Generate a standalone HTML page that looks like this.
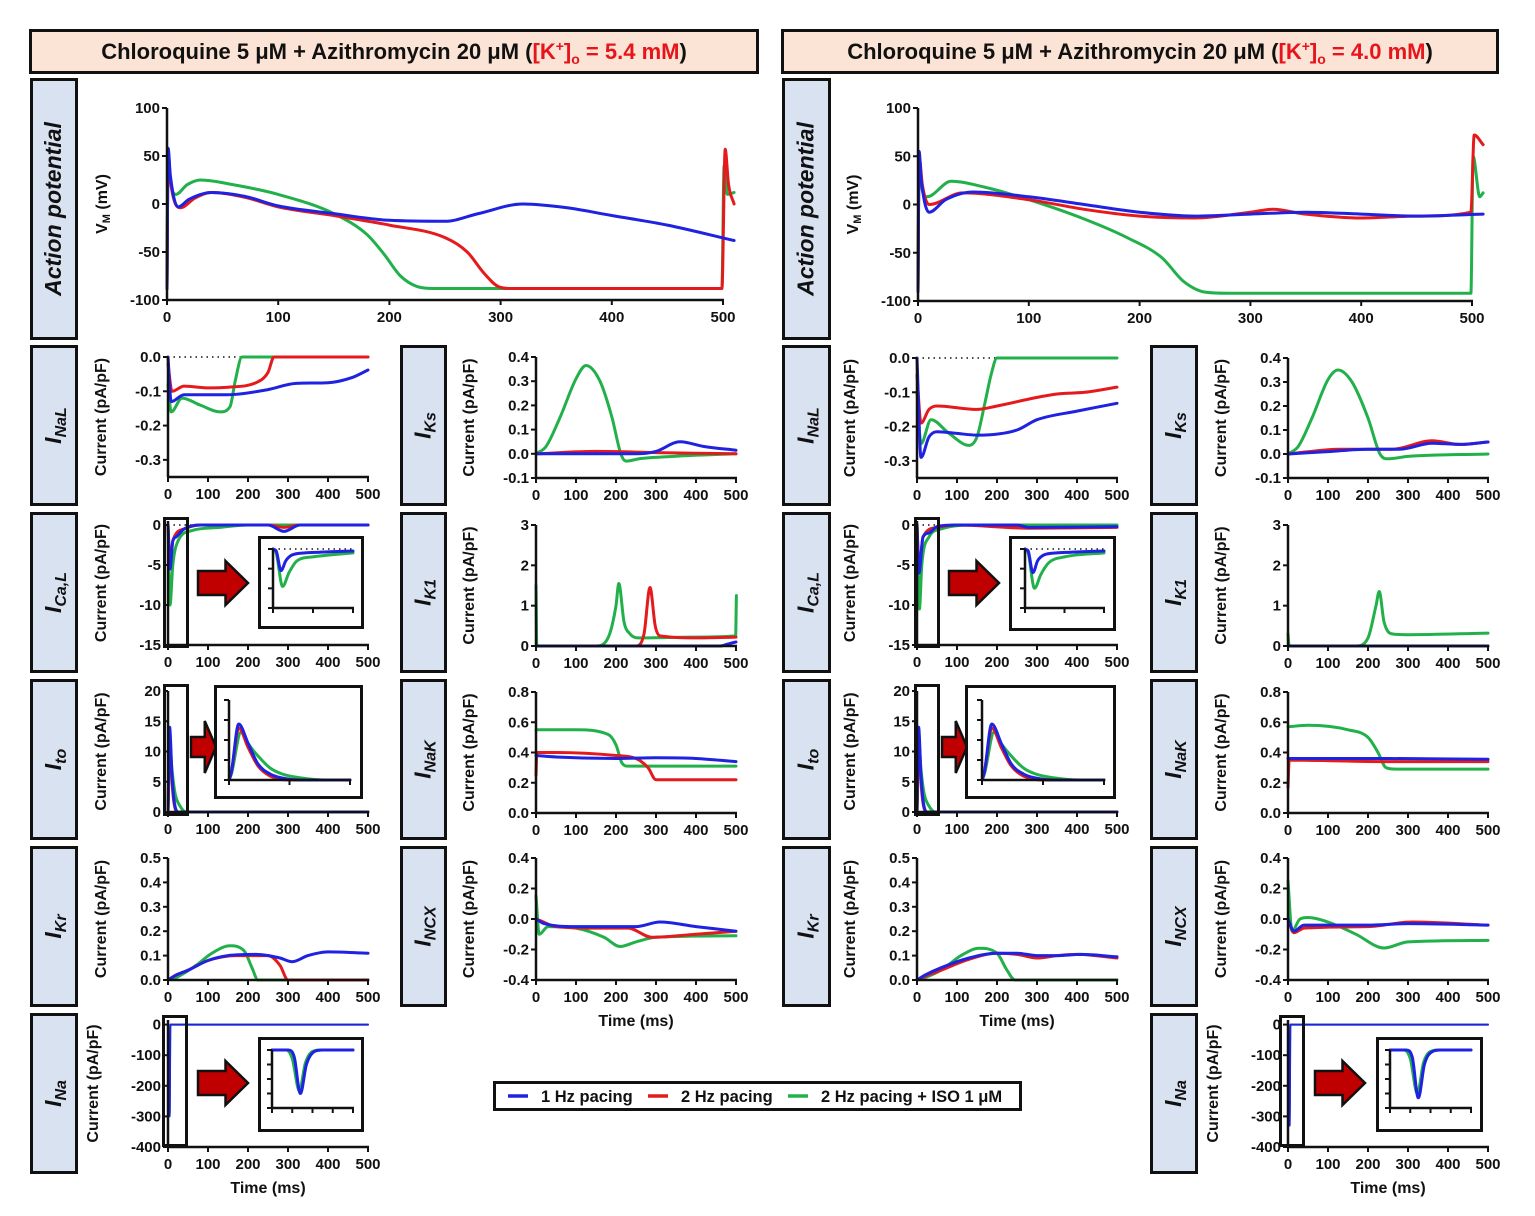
<!DOCTYPE html>
<html><head><meta charset="utf-8">
<style>
html,body{margin:0;padding:0;background:#fff;}
svg{display:block;font-family:"Liberation Sans",Arial,sans-serif;}
.tk{font-size:15px;font-weight:bold;fill:#111;}
.yl{font-size:16px;font-weight:bold;fill:#111;}
</style></head>
<body>
<svg id="fig" width="1535" height="1216" viewBox="0 0 1535 1216" xmlns="http://www.w3.org/2000/svg">
<rect x="0" y="0" width="1535" height="1216" fill="#fff"/>
<g>
<rect x="30.5" y="30.5" width="727" height="42" fill="#fbe4d5" stroke="#111" stroke-width="3"/>
<text x="394" y="59" text-anchor="middle" font-size="22" font-weight="bold" fill="#111">Chloroquine 5 μM + Azithromycin 20 μM (<tspan fill="#e8141b">[K<tspan font-size="14" dy="-8">+</tspan><tspan dy="8">]</tspan><tspan font-size="14" dy="5">o</tspan><tspan dy="-5"> = 5.4 mM</tspan></tspan>)</text>
</g>
<g>
<rect x="782.5" y="30.5" width="715" height="42" fill="#fbe4d5" stroke="#111" stroke-width="3"/>
<text x="1140" y="59" text-anchor="middle" font-size="22" font-weight="bold" fill="#111">Chloroquine 5 μM + Azithromycin 20 μM (<tspan fill="#e8141b">[K<tspan font-size="14" dy="-8">+</tspan><tspan dy="8">]</tspan><tspan font-size="14" dy="5">o</tspan><tspan dy="-5"> = 4.0 mM</tspan></tspan>)</text>
</g>
<g id="labels"></g>
<g id="plots"></g>
<g>
<rect x="494.5" y="1082.5" width="526" height="27" fill="#fff" stroke="#111" stroke-width="3"/>
<g><line x1="508" y1="1096" x2="528" y2="1096" stroke="#1f22e0" stroke-width="3.5"/><text x="541" y="1102" font-size="16.5" font-weight="bold" fill="#111">1 Hz pacing</text></g>
<g><line x1="648" y1="1096" x2="668" y2="1096" stroke="#e41a1c" stroke-width="3.5"/><text x="681" y="1102" font-size="16.5" font-weight="bold" fill="#111">2 Hz pacing</text></g>
<g><line x1="788" y1="1096" x2="808" y2="1096" stroke="#22b04a" stroke-width="3.5"/><text x="821" y="1102" font-size="16.5" font-weight="bold" fill="#111">2 Hz pacing + ISO 1 μM</text></g>
</g>
</svg>
<script>
// ===== DATA (t in ms, value) =====
const apL_blue=[[0,-88],[1,58],[3,30],[10,-3],[20,5],[40,12],[70,8],[100,-2],[150,-10],[200,-17],[250,-18],[280,-10],[320,0],[360,-4],[400,-12],[450,-22],[510,-38]];
const apL_red=[[0,-88],[1,55],[3,25],[12,-4],[25,6],[40,12],[70,7],[100,-3],[150,-12],[200,-22],[250,-35],[270,-50],[285,-72],[298,-86],[310,-88],[499,-88],[502,57],[505,20],[510,0]];
const apL_green=[[0,-88],[1,55],[3,25],[8,10],[18,20],[30,25],[60,20],[100,10],[150,-10],[180,-32],[195,-52],[210,-75],[225,-86],[240,-88],[499,-88],[501,40],[504,10],[510,12]];
const apR_blue=[[0,-90],[1,55],[3,25],[10,-8],[25,5],[50,13],[100,8],[150,0],[200,-8],[250,-12],[300,-10],[350,-8],[400,-10],[450,-12],[510,-10]];
const apR_red=[[0,-90],[1,50],[4,20],[10,0],[40,12],[100,5],[150,-5],[200,-12],[250,-14],[300,-8],[320,-5],[350,-10],[400,-14],[450,-12],[499,-8],[502,72],[510,62]];
const apR_green=[[0,-90],[1,45],[3,20],[8,8],[30,24],[60,18],[100,5],[150,-15],[190,-35],[220,-55],[240,-80],[260,-91],[280,-92],[499,-92],[501,50],[507,8],[510,12]];

const naLL_blue=[[0,0],[8,-0.13],[40,-0.11],[100,-0.11],[150,-0.11],[250,-0.095],[320,-0.077],[400,-0.075],[460,-0.06],[500,-0.038]];
const naLL_red=[[0,-0.02],[10,-0.1],[40,-0.085],[100,-0.09],[150,-0.088],[220,-0.075],[250,-0.045],[265,0],[500,0]];
const naLL_green=[[0,-0.08],[8,-0.16],[35,-0.12],[80,-0.14],[130,-0.16],[155,-0.145],[168,-0.07],[185,0],[500,0]];
const naLR_blue=[[0,0],[10,-0.29],[30,-0.23],[50,-0.215],[100,-0.22],[150,-0.225],[250,-0.21],[300,-0.18],[400,-0.155],[500,-0.132]];
const naLR_red=[[0,-0.05],[10,-0.19],[30,-0.15],[50,-0.14],[150,-0.15],[200,-0.14],[300,-0.115],[350,-0.105],[420,-0.1],[500,-0.085]];
const naLR_green=[[0,-0.1],[10,-0.25],[35,-0.18],[80,-0.22],[130,-0.255],[150,-0.23],[170,-0.13],[185,-0.05],[200,0],[500,0]];

const ks5_blue=[[0,0],[250,0],[300,0.01],[360,0.05],[420,0.03],[500,0.015]];
const ks5_red=[[0,0],[150,0.01],[300,0.005],[500,0]];
const ks5_green=[[0,0],[25,0.03],[60,0.15],[100,0.31],[125,0.365],[160,0.3],[190,0.15],[212,0],[225,-0.03],[260,-0.02],[350,-0.01],[500,0]];
const ks4_blue=[[0,0],[100,0.01],[200,0.02],[280,0.02],[360,0.045],[430,0.04],[500,0.05]];
const ks4_red=[[0,0],[130,0.02],[260,0.02],[360,0.055],[430,0.04],[500,0.05]];
const ks4_green=[[0,0],[25,0.03],[60,0.15],[100,0.31],[125,0.35],[160,0.3],[200,0.15],[230,0],[250,-0.02],[300,-0.01],[500,0]];

const caL5_blue=[[0,0],[5,-5.5],[12,-2],[20,-1.5],[40,-0.5],[80,0],[250,0],[290,-0.8],[330,0],[500,0]];
const caL5_red=[[0,0],[5,-5],[12,-2],[40,-0.5],[80,0],[250,0],[290,-0.3],[330,0],[500,0]];
const caL5_green=[[0,0],[5,-10],[12,-5],[25,-2],[60,-0.7],[130,-0.3],[200,0],[500,0]];
const caL4_blue=[[0,0],[5,-6],[15,-1.5],[30,-1],[50,-0.2],[100,0],[250,0],[280,-0.3],[500,-0.2]];
const caL4_red=[[0,0],[5,-5.5],[15,-1.5],[50,-0.3],[100,0],[280,-0.4],[500,-0.3]];
const caL4_green=[[0,0],[6,-10.5],[12,-5],[30,-1.5],[60,-0.5],[150,0],[500,0]];
const caI5_blue=[[0,0],[2,-0.5],[5,-5.5],[8,-3],[12,-1.5],[20,-1],[30,-0.8],[50,-0.5]];
const caI5_green=[[0,0],[2,-1],[6,-9.5],[10,-6],[15,-3],[25,-2],[50,-1]];
const caI4_blue=[[0,0],[2,-0.5],[5,-6],[8,-3],[12,-1.5],[20,-1],[30,-0.8],[50,-0.5]];
const caI4_green=[[0,0],[2,-1],[6,-10],[10,-6.5],[15,-3.5],[25,-2],[50,-1]];

const k15_blue=[[0,0],[460,0],[480,0.05],[500,0.1]];
const k15_red=[[0,0],[250,0],[270,0.3],[285,1.45],[298,0.5],[310,0.25],[400,0.2],[500,0.22]];
const k15_green=[[0,1.5],[2,0],[150,0],[180,0.2],[200,1],[207,1.55],[220,0.6],[235,0.3],[260,0.2],[400,0.22],[499,0.25],[501,1.25]];
const k14_blue=[[0,0],[500,0]];
const k14_red=[[0,0],[500,0]];
const k14_green=[[0,0.3],[3,0],[170,0],[200,0.2],[220,1],[228,1.35],[240,0.6],[260,0.3],[300,0.28],[500,0.32]];

const to5_blue=[[0,0],[4,14],[10,6],[15,2],[25,0],[500,0]];
const to5_red=[[0,0],[4,12.5],[10,5],[15,1.5],[25,0],[500,0]];
const to5_green=[[0,0],[5,11],[10,7],[18,3],[30,1],[45,0],[500,0]];
const to4_blue=[[0,0],[4,14],[10,6],[15,2],[25,0],[500,0]];
const to4_red=[[0,0],[4,13],[10,5],[15,1.5],[25,0],[500,0]];
const to4_green=[[0,0],[5,11],[10,7],[18,3],[30,1],[45,0],[500,0]];
const toI_blue=[[0,0],[1,2],[4,14],[8,9],[12,4],[17,1.5],[22,0.5],[30,0],[50,0]];
const toI_red=[[0,0],[1,2],[4,13],[8,8],[12,3.5],[17,1],[25,0],[50,0]];
const toI_green=[[0,0],[1,1.5],[5,12],[8,9],[12,6],[17,3],[22,1.5],[30,0.5],[40,0],[50,0]];

const nak5_blue=[[0,0.38],[50,0.37],[200,0.36],[300,0.365],[400,0.36],[500,0.34]];
const nak5_red=[[0,0.25],[2,0.4],[50,0.4],[200,0.38],[250,0.36],[280,0.3],[300,0.22],[500,0.22]];
const nak5_green=[[0,0.55],[100,0.55],[180,0.52],[200,0.45],[215,0.33],[230,0.31],[500,0.31]];
const nak4_blue=[[0,0.36],[250,0.36],[500,0.355]];
const nak4_red=[[0,0.17],[3,0.35],[250,0.34],[500,0.34]];
const nak4_green=[[0,0.57],[50,0.58],[150,0.55],[200,0.5],[225,0.4],[245,0.3],[270,0.29],[500,0.29]];

const kr5_blue=[[0,0],[20,0.02],[50,0.04],[100,0.08],[150,0.1],[220,0.105],[280,0.09],[310,0.075],[350,0.1],[400,0.115],[500,0.11]];
const kr5_red=[[0,0],[20,0.02],[50,0.04],[100,0.08],[170,0.1],[250,0.1],[280,0.06],[300,0],[500,0]];
const kr5_green=[[0,0],[20,0.01],[70,0.06],[110,0.11],[155,0.14],[190,0.12],[210,0.05],[225,0],[500,0]];
const kr4_blue=[[0,0],[20,0.02],[60,0.05],[130,0.09],[200,0.11],[250,0.11],[300,0.1],[350,0.1],[410,0.105],[500,0.095]];
const kr4_red=[[0,0],[20,0.015],[60,0.04],[130,0.085],[200,0.11],[250,0.105],[300,0.09],[350,0.1],[400,0.105],[500,0.09]];
const kr4_green=[[0,0],[20,0.01],[60,0.04],[110,0.1],[155,0.13],[200,0.11],[225,0.04],[245,0],[500,0]];

const ncx5_blue=[[0,0],[20,-0.03],[100,-0.05],[250,-0.05],[310,-0.02],[400,-0.05],[500,-0.08]];
const ncx5_red=[[0,0],[10,-0.01],[50,-0.05],[150,-0.06],[230,-0.06],[290,-0.12],[400,-0.1],[500,-0.08]];
const ncx5_green=[[0,0.15],[8,-0.1],[30,-0.05],[100,-0.06],[170,-0.12],[210,-0.18],[250,-0.15],[300,-0.12],[500,-0.11]];
const ncx4_blue=[[0,0],[15,-0.08],[40,-0.04],[200,-0.04],[300,-0.03],[500,-0.04]];
const ncx4_red=[[0,0],[15,-0.09],[40,-0.06],[200,-0.05],[310,-0.02],[500,-0.04]];
const ncx4_green=[[0,0.25],[10,-0.08],[30,0],[50,0.01],[100,-0.02],[170,-0.1],[240,-0.19],[300,-0.15],[500,-0.14]];

const na5_blue=[[0,0],[4,-300],[6,0],[500,0]];
const na5_green=[[0,0],[4,-290],[6,0],[500,0]];
const na4_blue=[[0,0],[4,-330],[6,0],[500,0]];
const na4_green=[[0,0],[4,-300],[6,0],[500,0]];
const naI5_blue=[[0,0],[0.8,0],[1.1,-50],[1.4,-300],[1.7,-100],[2.1,-10],[2.5,0],[4,0]];
const naI5_green=[[0,0],[0.7,0],[1.0,-60],[1.35,-280],[1.65,-90],[2.0,-10],[2.4,0],[4,0]];
const naI4_blue=[[0,0],[0.8,0],[1.1,-50],[1.4,-330],[1.7,-100],[2.1,-10],[2.5,0],[4,0]];
const naI4_green=[[0,0],[0.7,0],[1.0,-60],[1.35,-300],[1.65,-90],[2.0,-10],[2.4,0],[4,0]];

const xTicks=[0,100,200,300,400,500];
const apTicks=[-100,-50,0,50,100];
const naLTicks=[0,-0.1,-0.2,-0.3];
const caLTicks=[0,-5,-10,-15];
const toTicks=[0,5,10,15,20];
const krTicks=[0,0.1,0.2,0.3,0.4,0.5];
const naTicks=[0,-100,-200,-300,-400];
const ksTicks=[-0.1,0,0.1,0.2,0.3,0.4];
const k1Ticks=[0,1,2,3];
const nakTicks=[0,0.2,0.4,0.6,0.8];
const ncxTicks=[-0.4,-0.2,0,0.2,0.4];

const BLUE='#1f22e0',RED='#e41a1c',GREEN='#22b04a';
const NS='http://www.w3.org/2000/svg';
function mk(tag,attrs,parent){const e=document.createElementNS(NS,tag);for(const k in attrs)e.setAttribute(k,attrs[k]);if(parent)parent.appendChild(e);return e;}
const plots=document.getElementById('plots');
const labels=document.getElementById('labels');

function fmt(v,dec){return dec?v.toFixed(dec):String(v);}

function smoothPath(P){
  const n=P.length;
  const f=v=>v.toFixed(1);
  if(n<3)return 'M'+P.map(p=>f(p[0])+','+f(p[1])).join(' L');
  const d=[],m=new Array(n);
  for(let i=0;i<n-1;i++){const h=P[i+1][0]-P[i][0];d.push(h>0?(P[i+1][1]-P[i][1])/h:0);}
  m[0]=d[0];m[n-1]=d[n-2];
  for(let i=1;i<n-1;i++){m[i]=(d[i-1]*d[i]<=0)?0:(d[i-1]+d[i])/2;}
  for(let i=0;i<n-1;i++){
    if(d[i]===0){m[i]=0;m[i+1]=0;continue;}
    const a=m[i]/d[i],b=m[i+1]/d[i],s=a*a+b*b;
    if(s>9){const t=3/Math.sqrt(s);m[i]=t*a*d[i];m[i+1]=t*b*d[i];}
  }
  let s='M'+f(P[0][0])+','+f(P[0][1]);
  for(let i=0;i<n-1;i++){
    const h=(P[i+1][0]-P[i][0])/3;
    s+=' C'+f(P[i][0]+h)+','+f(P[i][1]+m[i]*h)+' '+f(P[i+1][0]-h)+','+f(P[i+1][1]-m[i+1]*h)+' '+f(P[i+1][0])+','+f(P[i+1][1]);
  }
  return s;
}

function drawPanel(p){
  const g=mk('g',{},plots);
  
  
  const xmin=p.xmin||0,xmax=p.xmax||500;
  const sx=t=>p.x0+(t-xmin)/(xmax-xmin)*(p.x1-p.x0);
  const sy=v=>p.yb-(v-p.ymin)/(p.ymax-p.ymin)*(p.yb-p.yt);
  if(p.dotted){
    const d=mk('line',{x1:sx(0),y1:sy(0),x2:p.x1,y2:sy(0),stroke:'#111','stroke-width':1.5,'stroke-dasharray':'1.5,4'},g);
    
    
  }
  const ser=[[p.green,GREEN,'series-2hz-iso'],[p.red,RED,'series-2hz'],[p.blue,BLUE,'series-1hz']];
  for(const [data,col,nm] of ser){
    if(!data)continue;
    const P=data.map(d=>[sx(d[0]),sy(Math.max(p.ymin,Math.min(p.ymax,d[1])))]);
    const pl=mk('path',{d:smoothPath(P),fill:'none',stroke:col,'stroke-width':p.sw||3,'stroke-linejoin':'round','stroke-linecap':'round'},g);
    
    
  }
  const ya=mk('line',{x1:p.x0,y1:p.yt,x2:p.x0,y2:p.yb,stroke:'#111','stroke-width':2.5},g);
  
  
  const xa=mk('line',{x1:p.x0-1,y1:p.yb,x2:p.x1+1,y2:p.yb,stroke:'#111','stroke-width':2.5},g);
  
  
  for(const v of p.yticks){
    const y=sy(v);
    const tl=mk('line',{x1:p.x0-5,y1:y,x2:p.x0,y2:y,stroke:'#111','stroke-width':2},g);
    
    
    if(p.noLabels)continue;
    const tx=mk('text',{x:p.x0-7,y:y+5,'text-anchor':'end',class:'tk'},g);
    tx.textContent=fmt(v,p.dec);
    
    
  }
  for(const v of p.xticks){
    const x=sx(v);
    const tl=mk('line',{x1:x,y1:p.yb,x2:x,y2:p.yb+5,stroke:'#111','stroke-width':2},g);
    
    
    if(p.noLabels)continue;
    const tx=mk('text',{x:x,y:p.yb+22,'text-anchor':'middle',class:'tk'},g);
    tx.textContent=String(v);
    
    
  }
  if(p.ylabel){
    const cy=(p.yt+p.yb)/2, cx=p.x0-(p.ylOff||56);
    const yl=mk('text',{x:cx,y:cy,'text-anchor':'middle',class:'yl',transform:`rotate(-90 ${cx} ${cy})`},g);
    
    
    if(p.ylabel==='VM'){yl.innerHTML='V<tspan font-size="11" dy="3">M</tspan><tspan dy="-3"> (mV)</tspan>';}
    else yl.textContent=p.ylabel;
  }
  if(p.time){
    const tt=mk('text',{x:(p.x0+p.x1)/2,y:p.yb+46,'text-anchor':'middle',class:'yl'},g);
    tt.textContent='Time (ms)';
    
    
  }
}

function rowLabel(x,y,w,h,main,sub,name){
  const g=mk('g',{},labels);
  
  
  mk('rect',{x:x+1.5,y:y+1.5,width:w-3,height:h-3,fill:'#d9e2f1',stroke:'#111','stroke-width':3},g);
  const cx=x+w/2+7,cy=y+h/2;
  const t=mk('text',{x:cx,y:cy,'text-anchor':'middle','font-size':23,'font-weight':'bold','font-style':'italic',fill:'#111',transform:`rotate(-90 ${cx} ${cy})`},g);
  if(sub)t.innerHTML=main+'<tspan font-size="16" dy="5">'+sub+'</tspan>';
  else t.textContent=main;
}

function zoomBox(x,y,w,h,name){
  const r=mk('rect',{x:x,y:y,width:w,height:h,fill:'none',stroke:'#111','stroke-width':3},plots);
  
  
}
function arrow(x,y,w,h,shaft,name){
  const hw=Math.min(w*0.45,h*0.55);
  const my=y+h/2, sh=shaft/2;
  const pts=[[x,my-sh],[x+w-hw,my-sh],[x+w-hw,y],[x+w,my],[x+w-hw,y+h],[x+w-hw,my+sh],[x,my+sh]].map(p=>p.join(',')).join(' ');
  const a=mk('polygon',{points:pts,fill:'#c00000',stroke:'#111','stroke-width':2.5,'stroke-linejoin':'miter'},plots);
  
  
}

const LX=[30,400,782,1150], LW=[48,47,49,48];
rowLabel(30,78,48,262,'Action potential','','row-label-action-potential-left');
rowLabel(782,78,49,262,'Action potential','','row-label-action-potential-right');
const rowsY=[345,512,679,846,1013];
const colLab=[['NaL','Ca,L','to','Kr','Na'],['Ks','K1','NaK','NCX'],['NaL','Ca,L','to','Kr'],['Ks','K1','NaK','NCX','Na']];
for(let c=0;c<4;c++){
  colLab[c].forEach((s,i)=>{
    rowLabel(LX[c],rowsY[i],LW[c],161,'I',s,'row-label-i-'+s.replace(',','').toLowerCase()+'-'+c);
  });
}

drawPanel({name:'ap-chart-left',x0:167,x1:723,yt:108,yb:300,ymin:-100,ymax:100,yticks:apTicks,xticks:xTicks,blue:apL_blue,red:apL_red,green:apL_green,ylabel:'VM',ylOff:60});
drawPanel({name:'ap-chart-right',x0:918,x1:1472,yt:108,yb:301,ymin:-100,ymax:100,yticks:apTicks,xticks:xTicks,blue:apR_blue,red:apR_red,green:apR_green,ylabel:'VM',ylOff:60});

const CUR='Current (pA/pF)';
const A=[168,368],B=[536,736],C=[917,1117],D=[1288,1488];
function sp(name,col,yt,yb,ymin,ymax,ticks,dec,blue,red,green,extra){
  drawPanel(Object.assign({name:name,x0:col[0],x1:col[1],yt:yt,yb:yb,ymin:ymin,ymax:ymax,yticks:ticks,dec:dec,xticks:xTicks,blue:blue,red:red,green:green,ylabel:CUR,ylOff:62},extra||{}));
}
sp('inal-chart-left',A,357,477,-0.35,0,naLTicks,1,naLL_blue,naLL_red,naLL_green,{dotted:true});
sp('ical-chart-left',A,521,645,-15,0.5,caLTicks,0,caL5_blue,caL5_red,caL5_green,{dotted:true});
sp('ito-chart-left',A,691,812,0,20,toTicks,0,to5_blue,to5_red,to5_green);
sp('ikr-chart-left',A,858,980,0,0.5,krTicks,1,kr5_blue,kr5_red,kr5_green);
sp('ina-chart-left',A,1020,1147,-400,15,naTicks,0,na5_blue,null,na5_green,{time:true,ylOff:70,sw:2});
sp('iks-chart-left',B,357,478,-0.1,0.4,ksTicks,1,ks5_blue,ks5_red,ks5_green);
sp('ik1-chart-left',B,525,646,0,3,k1Ticks,0,k15_blue,k15_red,k15_green);
sp('inak-chart-left',B,692,813,0,0.8,nakTicks,1,nak5_blue,nak5_red,nak5_green);
sp('incx-chart-left',B,858,980,-0.4,0.4,ncxTicks,1,ncx5_blue,ncx5_red,ncx5_green,{time:true});
sp('inal-chart-right',C,358,478,-0.35,0,naLTicks,1,naLR_blue,naLR_red,naLR_green,{dotted:true});
sp('ical-chart-right',C,521,645,-15,0.5,caLTicks,0,caL4_blue,caL4_red,caL4_green,{dotted:true});
sp('ito-chart-right',C,691,812,0,20,toTicks,0,to4_blue,to4_red,to4_green);
sp('ikr-chart-right',C,858,980,0,0.5,krTicks,1,kr4_blue,kr4_red,kr4_green,{time:true});
sp('iks-chart-right',D,358,478,-0.1,0.4,ksTicks,1,ks4_blue,ks4_red,ks4_green);
sp('ik1-chart-right',D,525,646,0,3,k1Ticks,0,k14_blue,k14_red,k14_green);
sp('inak-chart-right',D,692,813,0,0.8,nakTicks,1,nak4_blue,nak4_red,nak4_green);
sp('incx-chart-right',D,858,980,-0.4,0.4,ncxTicks,1,ncx4_blue,ncx4_red,ncx4_green);
sp('ina-chart-right',D,1020,1147,-400,15,naTicks,0,na4_blue,null,na4_green,{ylOff:70,time:true,sw:2});

function inset(name,bx,by,bw,bh,ax0,ax1,ayt,ayb,ymin,ymax,xmax,yt,xt,blue,red,green,dotted){
  const r=mk('rect',{x:bx,y:by,width:bw,height:bh,fill:'#fff',stroke:'#111','stroke-width':3},plots);
  
  
  drawPanel({name:name,x0:ax0,x1:ax1,yt:ayt,yb:ayb,ymin:ymin,ymax:ymax,xmin:0,xmax:xmax,yticks:yt,xticks:xt,blue:blue,red:red,green:green,noLabels:true,dotted:dotted,sw:3});
}
const caIy=[0,-5,-10,-15], caIx=[0,25,50];
const toIy=[0,5,10,15,20], toIx=[0,25,50];
const naIy=[0,-100,-200,-300,-400], naIx=[0,1,2,3,4];

zoomBox(164.5,518.5,23,128,'ical-zoom-region-left');
arrow(198,561,50,44,24,'ical-zoom-arrow-left');
inset('ical-inset-left',259.5,537.5,103,90,273,353,549,608,-15,0,50,caIy,caIx,caI5_blue,null,caI5_green,true);
zoomBox(164.5,685.5,23,129,'ito-zoom-region-left');
arrow(191,721,25,52,20,'ito-zoom-arrow-left');
inset('ito-inset-left',215.5,686.5,146,111,229,350,700,780,0,20,50,toIy,toIx,toI_blue,toI_red,toI_green,false);
zoomBox(163.5,1016.5,23,129,'ina-zoom-region-left');
arrow(198,1061,50,44,24,'ina-zoom-arrow-left');
inset('ina-inset-left',259.5,1038.5,103,92,272,353,1050,1108,-400,0,4,naIy,naIx,naI5_blue,null,naI5_green,false);

zoomBox(915.5,518.5,23,128,'ical-zoom-region-right');
arrow(949,561,50,44,24,'ical-zoom-arrow-right');
inset('ical-inset-right',1010.5,537.5,104,92,1025,1104,549,608,-15,0,50,caIy,caIx,caI4_blue,null,caI4_green,true);
zoomBox(915.5,685.5,23,129,'ito-zoom-region-right');
arrow(942,721,25,52,20,'ito-zoom-arrow-right');
inset('ito-inset-right',966.5,686.5,148,111,982,1104,700,780,0,20,50,toIy,toIx,toI_blue,toI_red,toI_green,false);
zoomBox(1280.5,1016.5,23,129,'ina-zoom-region-right');
arrow(1315,1061,50,44,24,'ina-zoom-arrow-right');
inset('ina-inset-right',1377.5,1038.5,104,92,1390,1471,1050,1108,-400,0,4,naIy,naIx,naI4_blue,null,naI4_green,false);
</script>
</body></html>
